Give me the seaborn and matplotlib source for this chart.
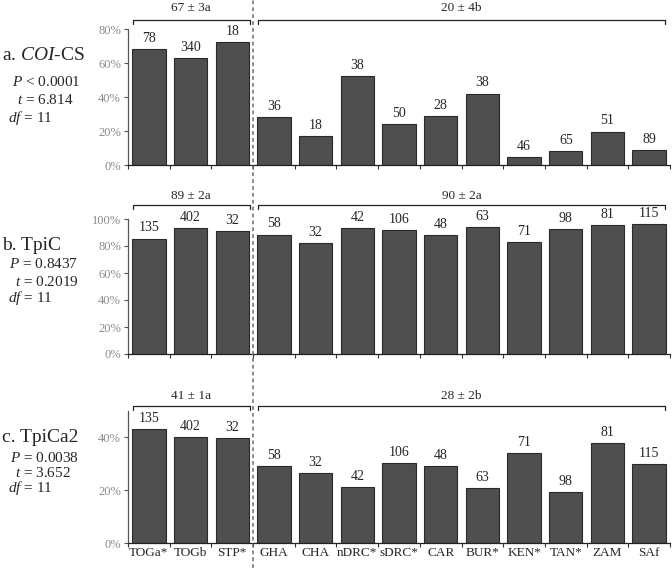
import numpy as np
import pandas as pd
import seaborn as sns
import matplotlib.pyplot as plt
import matplotlib.transforms as mtransforms
from matplotlib.ticker import PercentFormatter

# populations along the x axis
sites = ['TOGa*', 'TOGb', 'STP*', 'GHA', 'CHA', 'nDRC*', 'sDRC*',
         'CAR', 'BUR*', 'KEN*', 'TAN*', 'ZAM', 'SAf']

# proportions
coi_cs = [0.68, 0.63, 0.725, 0.28, 0.17, 0.525, 0.24, 0.29, 0.42, 0.045, 0.08, 0.197, 0.09]
tpic = [0.855, 0.935, 0.91, 0.885, 0.82, 0.935, 0.92, 0.88, 0.94, 0.83, 0.925, 0.957, 0.963]
tpica2 = [0.433, 0.401, 0.396, 0.292, 0.265, 0.213, 0.302, 0.291, 0.207, 0.34, 0.194, 0.379, 0.3]

# sample sizes printed above the bars
n_coi = [78, 340, 18, 36, 18, 38, 50, 28, 38, 46, 65, 51, 89]
n_tpi = [135, 402, 32, 58, 32, 42, 106, 48, 63, 71, 98, 81, 115]

# group means written over the brackets
group_a = ['67 ± 3a', '89 ± 2a', '41 ± 1a']
group_b = ['20 ± 4b', '90 ± 2a', '28 ± 2b']

titles = ['a. $\\mathit{COI}$-CS', 'b. TpiC', 'c. TpiCa2']
stats = [['$P$ < 0.0001', '$t$ = 6.814', '$df$ = 11'],
         ['$P$ = 0.8437', '$t$ = 0.2019', '$df$ = 11'],
         ['$P$ = 0.0038', '$t$ = 3.652', '$df$ = 11']]

sns.set_style('ticks')
plt.rcParams['font.family'] = ['Liberation Serif', 'DejaVu Serif']
plt.rcParams['mathtext.fontset'] = 'custom'
plt.rcParams['mathtext.rm'] = 'Liberation Serif'
plt.rcParams['mathtext.it'] = 'Liberation Serif:italic'

W, H = 672, 568
fig = plt.figure(figsize=(W / 100, H / 100), dpi=100)

def fx(px):
    return px / W

def fy(py):
    return 1 - py / H

# axes boxes in pixels: (top, bottom)
boxes = [(29, 165), (219, 354), (411, 543)]
ylims = [0.8, 1.0, 0.5]
yticks = [np.arange(0, 0.81, 0.2), np.arange(0, 1.01, 0.2), np.arange(0, 0.41, 0.2)]
values = [coi_cs, tpic, tpica2]
counts = [n_coi, n_tpi, n_tpi]

# pixel rows: bracket line, label, title and stats lines
bracket_y = [20, 205, 406]
label_y = [8, 196, 396]
title_y = [55, 246, 437]
stat_y = [[82, 100, 118], [264, 282, 298], [458, 473, 488]]
stat_x = [[12, 17, 8], [9, 15, 8], [10, 15, 8]]

axes = []
for i in range(3):
    top, bot = boxes[i]
    ax = fig.add_axes([fx(128), fy(bot), fx(670) - fx(128), (bot - top) / H])
    axes.append(ax)
    df = pd.DataFrame({'site': sites, 'value': values[i]})
    sns.barplot(data=df, x='site', y='value', color='#4f4f4f', saturation=1,
                edgecolor='#2a2a2a', linewidth=0.8, width=0.8, ax=ax)
    ax.set_xlim(-0.5, len(sites) - 0.5)
    ax.set_ylim(0, ylims[i])
    ax.set_yticks(yticks[i])
    ax.yaxis.set_major_formatter(PercentFormatter(1.0, decimals=0))
    ax.tick_params(axis='y', labelsize=9, labelcolor='#8c8c8c', length=3,
                   color='#555555', width=0.8, pad=2)
    ax.set_xticks(np.arange(-0.5, len(sites), 1))
    ax.set_xticklabels([])
    ax.set_xticks(np.arange(len(sites)), minor=True)
    ax.tick_params(axis='x', which='major', length=3, color='#333333', width=0.8)
    if i == 2:
        ax.set_xticklabels(sites, minor=True)
    ax.tick_params(axis='x', which='minor', length=0, labelsize=9.5, pad=3)
    ax.set_xlabel('')
    ax.set_ylabel('')
    sns.despine(ax=ax)
    ax.spines['left'].set_color('#555555')
    ax.spines['left'].set_linewidth(0.9)
    ax.spines['bottom'].set_color('#222222')
    ax.spines['bottom'].set_linewidth(0.9)

    for j, (v, n) in enumerate(zip(values[i], counts[i])):
        ax.annotate(str(n), (j, v), xytext=(0, 3), textcoords='offset points',
                    ha='center', va='bottom', fontsize=10)

    # group brackets
    tr = mtransforms.blended_transform_factory(ax.transData, fig.transFigure)
    yb = fy(bracket_y[i])
    yt = fy(bracket_y[i] + 4)
    for (x0, x1), lab in [((-0.38, 2.42), group_a[i]), ((2.62, 12.38), group_b[i])]:
        ax.plot([x0, x0, x1, x1], [yt, yb, yb, yt], transform=tr, color='#222222',
                lw=0.9, clip_on=False)
        ax.text((x0 + x1) / 2, fy(label_y[i]), lab, transform=tr, ha='center',
                va='center', fontsize=9.5)

    fig.text(fx(2), fy(title_y[i]), titles[i], fontsize=14, va='center', ha='left')
    for k in range(3):
        fig.text(fx(stat_x[i][k]), fy(stat_y[i][k]), stats[i][k], fontsize=11,
                 va='center', ha='left')

# dashed separator between the two groups, through all panels
tr = mtransforms.blended_transform_factory(axes[0].transData, fig.transFigure)
fig.add_artist(plt.Line2D([2.5, 2.5], [0, 1], transform=tr, color='#6e6e6e',
                          lw=1.1, ls=(0, (2.5, 2))))

fig.savefig('out.png', dpi=100)
